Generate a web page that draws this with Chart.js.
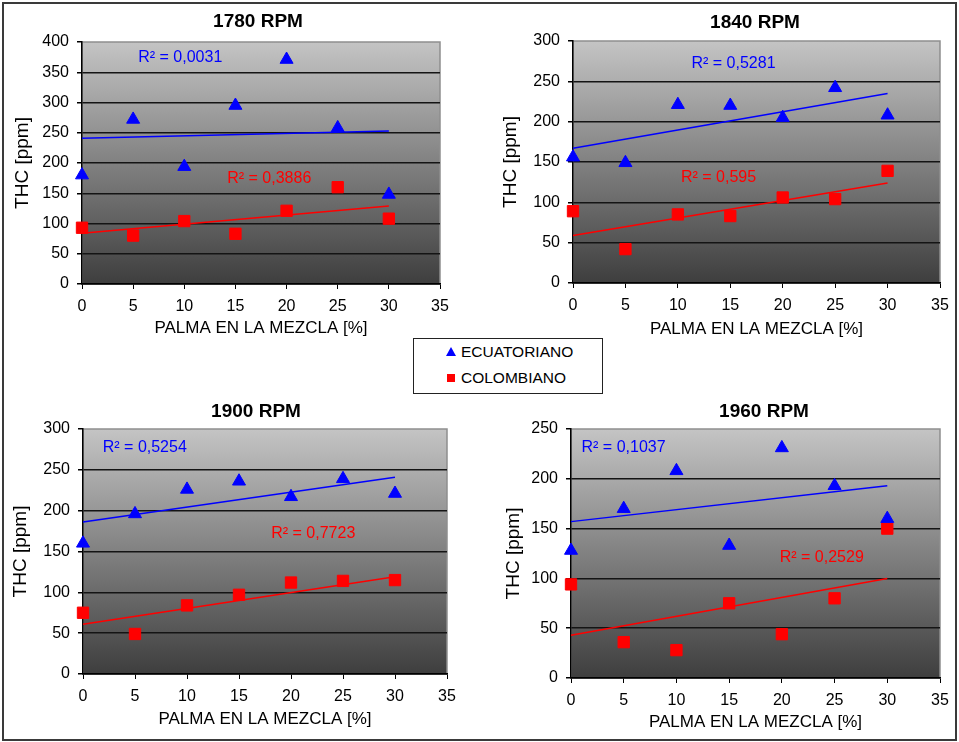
<!DOCTYPE html>
<html>
<head>
<meta charset="utf-8">
<script src="https://cdn.jsdelivr.net/npm/chart.js@4/dist/chart.umd.min.js"></script>
<style>
html,body{margin:0;padding:0;background:#fff;}
#page{position:relative;width:959px;height:742px;overflow:hidden;background:#fff;font-family:"Liberation Sans",Arial,sans-serif;}
#frame{position:absolute;left:2px;top:2px;width:955px;height:739px;box-sizing:border-box;border:2px solid #3a3a3a;pointer-events:none;}
canvas{position:absolute;left:0;top:0;}
#legend{position:absolute;left:413px;top:338px;width:190px;height:56px;box-sizing:border-box;border:1.5px solid #222;background:#fff;}
.item{position:absolute;left:32px;height:18px;line-height:18px;font-size:15.5px;color:#000;white-space:nowrap;}
.mk{display:inline-block;vertical-align:middle;margin-right:5px;position:relative;top:-1px;}
.tri{width:0;height:0;border-left:5px solid transparent;border-right:5px solid transparent;border-bottom:9px solid #0000ff;}
.sq{width:8px;height:8px;background:#ff0000;margin-left:1px;margin-right:6px;}
</style>
</head>
<body>
<div id="page">
  <div id="legend"></div>
  <div id="frame"></div>
</div>
<script>
// ---------------- DATA ----------------
const xPalma = [0, 5, 10, 15, 20, 25, 30];
const panelTitles = ['1780 RPM', '1840 RPM', '1900 RPM', '1960 RPM'];
const seriesNames = ['ECUATORIANO', 'COLOMBIANO'];
const xAxisTitle = 'PALMA EN LA MEZCLA [%]';
const yAxisTitle = 'THC [ppm]';

const ecuatoriano1780 = [180, 272, 194, 295, 371, 258, 148];
const colombiano1780  = [93, 80, 104, 83, 121, 160, 108];
const ecuatoriano1840 = [156, 149, 221, 220, 205, 242, 208];
const colombiano1840  = [89, 42, 85, 83, 106, 104, 139];
const ecuatoriano1900 = [160, 196, 226, 236, 217, 239, 221];
const colombiano1900  = [75, 49, 84, 97, 112, 114, 115];
const ecuatoriano1960 = [128, 170, 208, 133, 231, 193, 160];
const colombiano1960  = [94, 36, 28, 75, 44, 80, 150];

// trend lines, values at x = 0 and x = 30
const trendX = [0, 30];
const trendEcuatoriano1780 = [241, 253];
const trendColombiano1780  = [84, 129];
const trendEcuatoriano1840 = [167, 235];
const trendColombiano1840  = [59, 124];
const trendEcuatoriano1900 = [186, 241];
const trendColombiano1900  = [61, 119];
const trendEcuatoriano1960 = [157, 193];
const trendColombiano1960  = [43, 100];

const r2Ecuatoriano = ['0,0031', '0,5281', '0,5254', '0,1037'];
const r2Colombiano  = ['0,3886', '0,595', '0,7723', '0,2529'];

const yMaxValues = [400, 300, 300, 250];
const xMaxValue = 35;
const xStep = 5;
const yStep = 50;

// ---------------- LAYOUT / STYLE ----------------
const ecuSeries = [ecuatoriano1780, ecuatoriano1840, ecuatoriano1900, ecuatoriano1960];
const colSeries = [colombiano1780, colombiano1840, colombiano1900, colombiano1960];
const ecuTrend = [trendEcuatoriano1780, trendEcuatoriano1840, trendEcuatoriano1900, trendEcuatoriano1960];
const colTrend = [trendColombiano1780, trendColombiano1840, trendColombiano1900, trendColombiano1960];

const W = 959, H = 742;
const FONT = '"Liberation Sans", Arial, sans-serif';
const BLUE = '#0000ff', RED = '#ff0000';

const layouts = [
  {plot: [82, 42, 440, 284],  yAxisLeft: 11,  xAxisBottom: 339, title: [258, 22],  r2At: [[5.5, 375], [14.2, 175]]},
  {plot: [573, 41, 940, 283], yAxisLeft: 499, xAxisBottom: 340, title: [755, 23],  r2At: [[11.3, 272], [10.3, 131]]},
  {plot: [83, 429, 447, 674], yAxisLeft: 9,   xAxisBottom: 730, title: [256, 412], r2At: [[1.9, 277], [18.1, 172]]},
  {plot: [571, 429, 940, 678],yAxisLeft: 502, xAxisBottom: 733, title: [764, 412], r2At: [[1.0, 231], [19.8, 121]]}
];

Chart.defaults.font.family = FONT;
Chart.defaults.color = '#000';

const decorPlugin = {
  id: 'panelDecor',
  beforeDraw(chart, args, opts) {
    const {ctx, chartArea: a} = chart;
    ctx.save();
    const g = ctx.createLinearGradient(0, a.top, 0, a.bottom);
    g.addColorStop(0, '#c4c4c4');
    g.addColorStop(1, '#3e3e3e');
    ctx.fillStyle = g;
    ctx.fillRect(a.left, a.top, a.right - a.left, a.bottom - a.top);
    ctx.strokeStyle = '#8e8e8e';
    ctx.lineWidth = 1.5;
    ctx.strokeRect(a.left, a.top, a.right - a.left, a.bottom - a.top);
    ctx.fillStyle = '#000';
    ctx.font = 'bold 19px ' + FONT;
    ctx.textAlign = 'center';
    ctx.textBaseline = 'middle';
    ctx.fillText(opts.title, opts.titleX, opts.titleY);
    ctx.restore();
  },
  afterDatasetsDraw(chart, args, opts) {
    const {ctx, scales} = chart;
    ctx.save();
    ctx.font = '16px ' + FONT;
    ctx.textAlign = 'left';
    ctx.textBaseline = 'middle';
    opts.labels.forEach(l => {
      ctx.fillStyle = l.color;
      ctx.fillText(l.text, scales.x.getPixelForValue(l.x), scales.y.getPixelForValue(l.y));
    });
    ctx.restore();
  }
};

function makeChart(i) {
  const L = layouts[i];
  const [pl, pt, pr, pb] = L.plot;
  const yMax = yMaxValues[i];
  const canvas = document.createElement('canvas');
  canvas.width = W; canvas.height = H;
  canvas.style.width = W + 'px'; canvas.style.height = H + 'px';
  document.getElementById('page').insertBefore(canvas, document.getElementById('legend'));

  new Chart(canvas, {
    type: 'scatter',
    data: {
      datasets: [
        {label: seriesNames[0], data: xPalma.map((x, k) => ({x: x, y: ecuSeries[i][k]})),
         pointStyle: 'triangle', pointRadius: 7.5, pointBackgroundColor: BLUE, pointBorderColor: BLUE,
         pointBorderWidth: 1, showLine: false, clip: false},
        {label: seriesNames[1], data: xPalma.map((x, k) => ({x: x, y: colSeries[i][k]})),
         pointStyle: 'rect', pointRadius: 8, pointBackgroundColor: RED, pointBorderColor: RED,
         pointBorderWidth: 1, showLine: false, clip: false},
        {label: 'trend ' + seriesNames[0], data: trendX.map((x, k) => ({x: x, y: ecuTrend[i][k]})),
         showLine: true, borderColor: BLUE, borderWidth: 1.5, pointRadius: 0, fill: false, clip: false},
        {label: 'trend ' + seriesNames[1], data: trendX.map((x, k) => ({x: x, y: colTrend[i][k]})),
         showLine: true, borderColor: RED, borderWidth: 1.5, pointRadius: 0, fill: false, clip: false}
      ]
    },
    options: {
      responsive: false,
      animation: false,
      devicePixelRatio: 1,
      events: [],
      layout: {autoPadding: false, padding: {left: L.yAxisLeft, top: pt, right: W - pr, bottom: H - L.xAxisBottom}},
      plugins: {
        legend: {display: false},
        tooltip: {enabled: false},
        title: {display: false},
        panelDecor: {
          title: panelTitles[i], titleX: L.title[0], titleY: L.title[1],
          labels: [
            {text: 'R\u00B2 = ' + r2Ecuatoriano[i], color: BLUE, x: L.r2At[0][0], y: L.r2At[0][1]},
            {text: 'R\u00B2 = ' + r2Colombiano[i], color: RED, x: L.r2At[1][0], y: L.r2At[1][1]}
          ]
        }
      },
      scales: {
        x: {
          type: 'linear', position: 'bottom', min: 0, max: xMaxValue,
          ticks: {stepSize: xStep, color: '#000', font: {size: 16}, padding: 8, maxRotation: 0, autoSkip: false},
          grid: {drawOnChartArea: false, drawTicks: true, tickLength: 5, color: '#000', lineWidth: 1},
          border: {color: '#000', width: 1.5},
          title: {display: true, text: xAxisTitle, color: '#000', font: {size: 17}, padding: 0},
          afterFit: s => { s.height = L.xAxisBottom - pb; }
        },
        y: {
          type: 'linear', position: 'left', min: 0, max: yMax,
          ticks: {stepSize: yStep, color: '#000', font: {size: 16}, padding: 8},
          grid: {
            color: c => (c.tick && c.tick.value === yMax) ? 'rgba(0,0,0,0)' : '#141414',
            tickColor: '#000', lineWidth: 1.5, tickLength: 5, drawTicks: true
          },
          border: {color: '#000', width: 1.5},
          title: {display: true, text: yAxisTitle, color: '#000', font: {size: 19}, padding: 0},
          afterFit: s => { s.width = pl - L.yAxisLeft; }
        }
      }
    },
    plugins: [decorPlugin]
  });
}

for (let i = 0; i < 4; i++) makeChart(i);

// legend built from series names
const legend = document.getElementById('legend');
seriesNames.forEach((name, k) => {
  const div = document.createElement('div');
  div.className = 'item';
  div.style.top = (k === 0 ? 4 : 30) + 'px';
  const mk = document.createElement('span');
  mk.className = 'mk ' + (k === 0 ? 'tri' : 'sq');
  div.appendChild(mk);
  div.appendChild(document.createTextNode(name));
  legend.appendChild(div);
});
</script>
</body>
</html>
